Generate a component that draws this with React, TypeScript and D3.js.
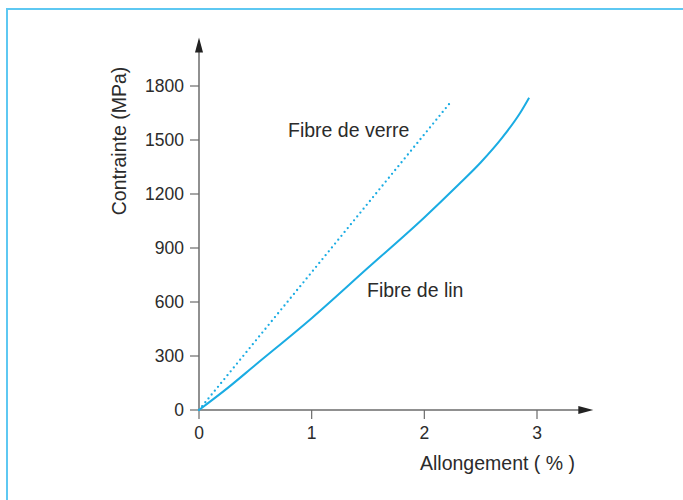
import React from "react";
import * as d3 from "d3";

const xTicks = [0, 1, 2, 3];
const yTicks = [0, 300, 600, 900, 1200, 1500, 1800];

// Fibre de verre (pointillé)
const glassX = [0, 1.1, 2.22];
const glassY = [0, 842, 1700];

// Fibre de lin (trait plein)
const flaxX = [0, 0.25, 0.5, 1, 1.5, 2, 2.3, 2.5, 2.7, 2.85, 2.93];
const flaxY = [0, 120, 250, 510, 790, 1070, 1250, 1375, 1520, 1650, 1735];

const W = 683;
const H = 500;
const lineColor = "#1aace3";
const axisColor = "#6b6b6b";
const textColor = "#2b2b2b";
const font = "'Liberation Sans', Arial, sans-serif";

export default function App() {
  const x = d3.scaleLinear().domain([0, 3]).range([199, 537]);
  const y = d3.scaleLinear().domain([0, 1800]).range([410, 86]);

  const line = d3
    .line()
    .x((d) => x(d[0]))
    .y((d) => y(d[1]))
    .curve(d3.curveMonotoneX);

  const glass = glassX.map((v, i) => [v, glassY[i]]);
  const flax = flaxX.map((v, i) => [v, flaxY[i]]);

  const x0 = x(0);
  const y0 = y(0);
  const xEnd = x(3.5);
  const yTop = y(2070);

  return (
    <div style={{ position: "absolute", left: 0, top: 0 }}>
      <svg width={W} height={H} style={{ display: "block", background: "#fff" }}>
        {/* cadre */}
        <line x1={6} x2={W} y1={9} y2={9} stroke="#5ec8f2" strokeWidth={2} />
        <line x1={7} x2={7} y1={8} y2={H} stroke="#5ec8f2" strokeWidth={2} />

        {/* axes */}
        <line x1={x0} x2={xEnd - 10} y1={y0} y2={y0} stroke={axisColor} strokeWidth={1.5} />
        <line x1={x0} x2={x0} y1={y0} y2={yTop + 10} stroke={axisColor} strokeWidth={1.5} />
        <path
          d={`M${xEnd},${y0} L${xEnd - 15},${y0 - 4} L${xEnd - 15},${y0 + 4} Z`}
          fill="#222"
        />
        <path
          d={`M${x0},${yTop} L${x0 - 4},${yTop + 15} L${x0 + 4},${yTop + 15} Z`}
          fill="#222"
        />

        {yTicks.map((t) => (
          <g key={"y" + t}>
            <line x1={x0 - 9} x2={x0} y1={y(t)} y2={y(t)} stroke={axisColor} strokeWidth={1.2} />
            <text
              x={x0 - 15}
              y={y(t)}
              dy="0.36em"
              textAnchor="end"
              fontFamily={font}
              fontSize={17.5}
              fill={textColor}
            >
              {t}
            </text>
          </g>
        ))}

        {xTicks.map((t) => (
          <g key={"x" + t}>
            <line x1={x(t)} x2={x(t)} y1={y0} y2={y0 + 9} stroke={axisColor} strokeWidth={1.2} />
            <text
              x={x(t)}
              y={y0 + 29}
              textAnchor="middle"
              fontFamily={font}
              fontSize={17.5}
              fill={textColor}
            >
              {t}
            </text>
          </g>
        ))}

        {/* courbes */}
        <path
          d={line(glass)}
          fill="none"
          stroke={lineColor}
          strokeWidth={2.3}
          strokeLinecap="round"
          strokeDasharray="0 5"
        />
        <path d={line(flax)} fill="none" stroke={lineColor} strokeWidth={2} />

        {/* libellés */}
        <text x={288} y={137} fontFamily={font} fontSize={19.5} fill={textColor}>
          Fibre de verre
        </text>
        <text x={367} y={297} fontFamily={font} fontSize={19.5} fill={textColor}>
          Fibre de lin
        </text>
        <text x={420} y={470} fontFamily={font} fontSize={19.5} fill={textColor}>
          Allongement ( % )
        </text>
        <text
          transform={`translate(126,141) rotate(-90)`}
          textAnchor="middle"
          fontFamily={font}
          fontSize={19.5}
          fill={textColor}
        >
          Contrainte (MPa)
        </text>
      </svg>
    </div>
  );
}
